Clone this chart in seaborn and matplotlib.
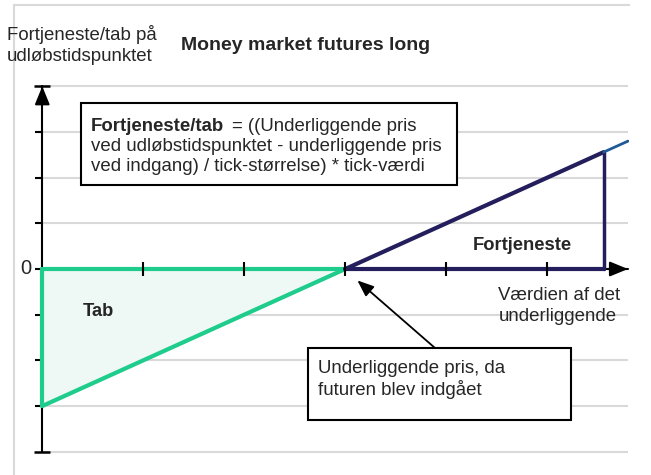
import matplotlib
matplotlib.use('Agg')
import matplotlib.pyplot as plt
import matplotlib.patches as patches
import seaborn as sns
import pandas as pd

# ===============================
# Data (payoff of a long future, units = ticks)
# ===============================
loss_x = [0, 3]
loss_y = [-3, 0]
profit_x = [3, 5.56]
profit_y = [0, 2.56]
ext_x = [5.56, 5.8]
ext_y = [2.56, 2.8]
entry_price = 3
y_ticks = [-4, -3, -2, -1, 0, 1, 2, 3, 4]
x_ticks = [1, 2, 3, 4, 5]

ylabel_lines = ['Fortjeneste/tab på', 'udløbstidspunktet']
title = 'Money market futures long'
formula_bold = 'Fortjeneste/tab'
formula_lines = ['= ((Underliggende pris',
                 'ved udløbstidspunktet - underliggende pris',
                 'ved indgang) / tick-størrelse) * tick-værdi']
xlabel_lines = ['Værdien af det', 'underliggende']
callout_lines = ['Underliggende pris, da', 'futuren blev indgået']

GREEN = '#1ecc8c'
FILL = '#eef8f4'
NAVY = '#241f5c'
BLUE = '#1f5b96'
GRID = '#d9d9d9'
FS = 13.4

W, H = 651, 475


def fx(px):
    return px / W


def fy(py):
    return 1 - py / H


sns.set_style('white')
plt.rcParams['font.family'] = ['Liberation Sans', 'DejaVu Sans']

fig = plt.figure(figsize=(6.51, 4.75), dpi=100)
ax = fig.add_axes([fx(14), 0, fx(629) - fx(14), fy(5)])
ax.set_xlim(-0.28, 5.81)
ax.set_ylim(-4.51, 5.78)

# frame: only left and top, light gray
for s in ['right', 'bottom']:
    ax.spines[s].set_visible(False)
for s in ['left', 'top']:
    ax.spines[s].set_color(GRID)
    ax.spines[s].set_linewidth(1.5)
ax.set_xticks([])
ax.set_yticks([])

# gridlines starting at the y-axis
ax.hlines(y_ticks, 0, ext_x[-1], colors=GRID, lw=1.5, zorder=1)

# axes drawn by hand
ax.plot([0, 0], [y_ticks[0], y_ticks[-1]], color='black', lw=1.5, zorder=3)
ax.annotate('', xy=(0, y_ticks[-1]), xytext=(0, y_ticks[-1] - 0.4),
            arrowprops=dict(arrowstyle='-|>,head_length=1.1,head_width=0.45',
                            color='black', lw=1.5, shrinkA=0, shrinkB=0), zorder=4)
ax.plot([0, ext_x[-1]], [0, 0], color='black', lw=1.5, zorder=3)
ax.annotate('', xy=(ext_x[-1], 0), xytext=(ext_x[-1] - 0.2, 0),
            arrowprops=dict(arrowstyle='-|>,head_length=1.1,head_width=0.45',
                            color='black', lw=1.5, shrinkA=0, shrinkB=0), zorder=4)

# ticks
ax.plot([0] * len(y_ticks[1:-1]), y_ticks[1:-1], marker=0, markersize=5,
        color='black', mew=1.5, ls='none', zorder=3)
ax.plot([0, 0], [y_ticks[0], y_ticks[-1]], marker='_', markersize=11,
        color='black', mew=1.8, ls='none', zorder=3)
ax.plot(x_ticks, [0] * len(x_ticks), marker='|', markersize=10,
        color='black', mew=1.5, ls='none', zorder=6)

# loss triangle
ax.fill_between(loss_x, loss_y, [0, 0], color=FILL, zorder=2)
loss_df = pd.DataFrame({'x': loss_x, 'y': loss_y})
sns.lineplot(data=loss_df, x='x', y='y', ax=ax, color=GREEN, lw=3, zorder=5)
ax.plot([loss_x[0], loss_x[-1]], [0, 0], color=GREEN, lw=3, zorder=5)
ax.plot([0, 0], [loss_y[0], 0], color=GREEN, lw=3, zorder=5)

# profit triangle
profit_df = pd.DataFrame({'x': profit_x, 'y': profit_y})
sns.lineplot(data=profit_df, x='x', y='y', ax=ax, color=NAVY, lw=3, zorder=5)
ax.plot([profit_x[0], profit_x[-1]], [0, 0], color=NAVY, lw=3, zorder=5)
ax.plot([profit_x[-1], profit_x[-1]], [0, profit_y[-1]], color=NAVY, lw=2.5, zorder=5)
sns.lineplot(x=ext_x, y=ext_y, ax=ax, color=BLUE, lw=2, zorder=5)
ax.set_xlabel('')
ax.set_ylabel('')

# ===============================
# Texts
# ===============================
fig.text(fx(7), fy(40), ylabel_lines[0], fontsize=FS, va='baseline')
fig.text(fx(7), fy(61), ylabel_lines[1], fontsize=FS, va='baseline')
fig.text(fx(306), fy(50), title, fontsize=14, fontweight='bold', ha='center', va='baseline')
fig.text(fx(26), fy(268), '0', fontsize=14.5, ha='center', va='center')

# formula box
fig.add_artist(patches.Rectangle((fx(81), fy(185)), fx(457) - fx(81), fy(103) - fy(185),
                                 transform=fig.transFigure, fc='white', ec='black', lw=1.5))
tb = fig.text(fx(91), fy(131), formula_bold, fontsize=FS, fontweight='bold', va='baseline')
bb = tb.get_window_extent(renderer=fig.canvas.get_renderer())
fig.text(fx(bb.x1 + 8), fy(131), formula_lines[0], fontsize=FS, va='baseline')
fig.text(fx(91), fy(151), formula_lines[1], fontsize=FS, va='baseline')
fig.text(fx(91), fy(171), formula_lines[2], fontsize=FS, va='baseline')

fig.text(fx(522), fy(250), 'Fortjeneste', fontsize=13.2, fontweight='bold', ha='center', va='baseline')
fig.text(fx(98), fy(316), 'Tab', fontsize=13.2, fontweight='bold', ha='center', va='baseline')
fig.text(fx(559), fy(300), xlabel_lines[0], fontsize=FS, ha='center', va='baseline')
fig.text(fx(558), fy(321), xlabel_lines[1], fontsize=FS, ha='center', va='baseline')

# entry price callout
fig.add_artist(patches.Rectangle((fx(308), fy(420)), fx(571) - fx(308), fy(348) - fy(420),
                                 transform=fig.transFigure, fc='white', ec='black', lw=1.5))
fig.text(fx(318), fy(373), callout_lines[0], fontsize=FS, va='baseline')
fig.text(fx(318), fy(395), callout_lines[1], fontsize=FS, va='baseline')
ax.annotate('', xy=(entry_price + 0.12, -0.25), xycoords='data',
            xytext=(fx(435), fy(348)), textcoords='figure fraction',
            arrowprops=dict(arrowstyle='-|>,head_length=1.0,head_width=0.4',
                            color='black', lw=1.3, shrinkA=0, shrinkB=0), zorder=7)

plt.savefig('out.png', dpi=100)
plt.close()
